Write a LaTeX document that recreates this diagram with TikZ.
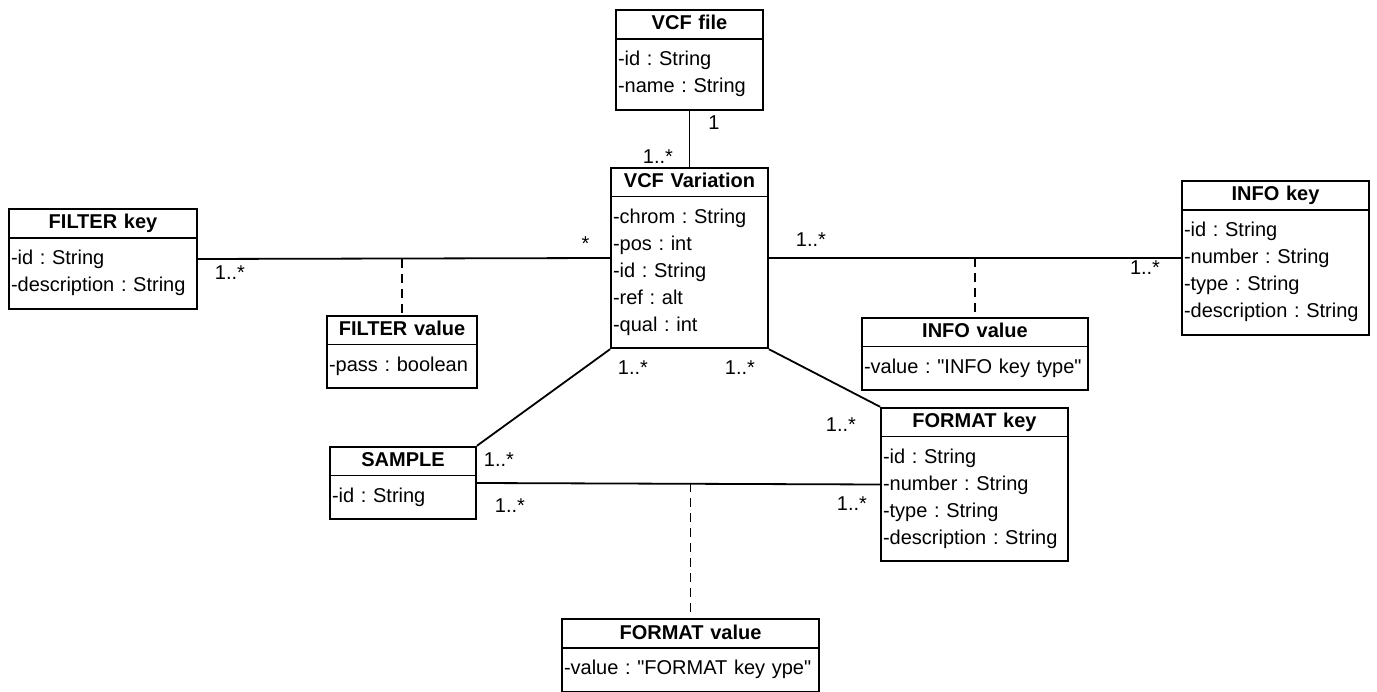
\documentclass[tikz,border=0pt]{standalone}
\usepackage{fontspec}
\newfontfamily\umlfont{Liberation Sans}
\newcommand{\toprow}{\rule{0pt}{26pt}}
\newcommand{\padrow}{\rule[-16pt]{0pt}{16pt}}
\usetikzlibrary{shapes.multipart}

\begin{document}
\begin{tikzpicture}[x=1pt,y=-1pt,
  umlclass/.style={draw, line width=1.8pt, rectangle split, rectangle split parts=2,
    inner xsep=2pt, inner ysep=0pt, font=\umlfont\fontsize{20}{27}\selectfont\frenchspacing},
  assoc/.style={line width=1.8pt},
  assocclass/.style={line width=1.8pt, dash pattern=on 9pt off 6pt},
  mult/.style={anchor=base, inner sep=0pt, font=\umlfont\fontsize{20}{27}\selectfont}]
  \useasboundingbox (0,0) rectangle (1377,692);

  % Classes
  \node[umlclass, text width=143] (vcffile) at (689.5,60)
    {\centering\strut\textbf{VCF file}\par
     \nodepart{second}\toprow-id : String\\\padrow-name : String};
  \node[umlclass, text width=153] (variation) at (689.5,258)
    {\centering\strut\textbf{VCF Variation}\par
     \nodepart{second}\toprow-chrom : String\\-pos : int\\-id : String\\-ref : alt\\\padrow-qual : int};
  \node[umlclass, text width=184] (filterkey) at (103,259)
    {\centering\strut\textbf{FILTER key}\par
     \nodepart{second}\toprow-id : String\\\padrow-description : String};
  \node[umlclass, text width=146] (filtervalue) at (402,352)
    {\centering\strut\textbf{FILTER value}\par
     \nodepart{second}\toprow\padrow-pass : boolean};
  \node[umlclass, text width=183] (infokey) at (1275.5,258)
    {\centering\strut\textbf{INFO key}\par
     \nodepart{second}\toprow-id : String\\-number : String\\-type : String\\\padrow-description : String};
  \node[umlclass, text width=222] (infovalue) at (975,354)
    {\centering\strut\textbf{INFO value}\par
     \nodepart{second}\toprow\padrow-value : "INFO key type"};
  \node[umlclass, text width=142] (sample) at (403,483)
    {\centering\strut\textbf{SAMPLE}\par
     \nodepart{second}\toprow\padrow-id : String};
  \node[umlclass, text width=183] (formatkey) at (974.5,484.5)
    {\centering\strut\textbf{FORMAT key}\par
     \nodepart{second}\toprow-id : String\\-number : String\\-type : String\\\padrow-description : String};
  \node[umlclass, text width=253] (formatvalue) at (690.5,655.5)
    {\centering\strut\textbf{FORMAT value}\par
     \nodepart{second}\toprow\padrow-value : "FORMAT key ype"};

  % Associations
  \draw[assoc] (vcffile.south) -- (variation.north);
  \draw[assoc] (filterkey.east) -- (variation.west);
  \draw[assoc] (variation.east) -- (infokey.west);
  \draw[assoc] (variation.south west) -- (sample.north east);
  \draw[assoc] (variation.south east) -- (formatkey.north west);
  \draw[assoc] (sample.east) -- (formatkey.west);

  % Association classes
  \draw[assocclass] (filtervalue.north |- filterkey.east) -- (filtervalue.north);
  \draw[assocclass] (infovalue.north |- infokey.west) -- (infovalue.north);
  \draw[assocclass] (formatvalue.north |- sample.east) -- (formatvalue.north);

  % Multiplicities
  \node[mult] (m1) at (714,130) {1};
  \node[mult] (m2) at (658,164) {1..*};
  \node[mult] (m3) at (585.5,251) {*};
  \node[mult] (m4) at (230,280) {1..*};
  \node[mult] (m5) at (811,247) {1..*};
  \node[mult] (m6) at (1145,275) {1..*};
  \node[mult] (m7) at (633,375) {1..*};
  \node[mult] (m8) at (740,375) {1..*};
  \node[mult] (m9) at (499,467) {1..*};
  \node[mult] (m10) at (510,512) {1..*};
  \node[mult] (m11) at (841,432) {1..*};
  \node[mult] (m12) at (852,511) {1..*};
\end{tikzpicture}
\end{document}
